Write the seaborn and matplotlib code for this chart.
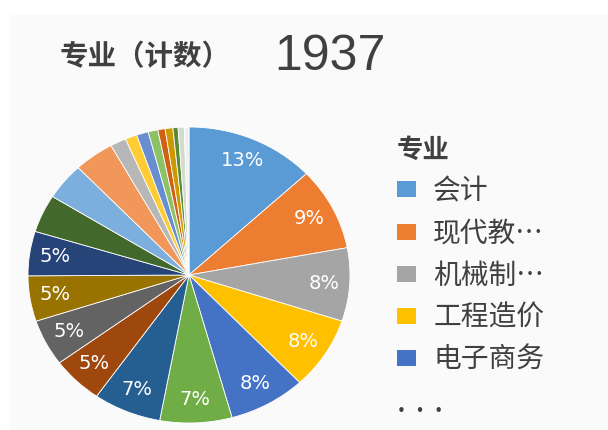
import matplotlib
matplotlib.use("Agg")
import matplotlib.pyplot as plt
from matplotlib.patches import Patch, Rectangle
import seaborn as sns

# data (total 1937)
legend_labels = ["会计", "现代教…", "机械制…", "工程造价", "电子商务"]
counts = [252, 175, 155, 153, 150, 140, 132, 100, 98, 96, 94,
          80, 78, 78, 31, 23, 23, 19, 14, 15, 10, 12, 9]
title_text = "专业（计数）"
legend_title = "专业"

# Excel-like theme colours
palette = sns.color_palette([
    "#5B9BD5", "#ED7D31", "#A5A5A5", "#FFC000", "#4472C4", "#70AD47",
    "#255E91", "#9E480E", "#636363", "#997300", "#264478", "#43682B",
    "#7CAFDD", "#F1975A", "#B7B7B7", "#FFCD33", "#698ED0", "#8CC168",
    "#D26012", "#CC9A00", "#5A8A39", "#D3DBCB", "#EEF1F3",
])

sns.set_theme(style="white")
cjk = ["Noto Sans CJK SC", "DejaVu Sans"]
plt.rcParams["font.family"] = cjk

W, H = 608, 430
fig = plt.figure(figsize=(W / 100, H / 100), dpi=100)
fig.patch.set_facecolor("white")
fig.add_artist(Rectangle((10 / W, 0), 1, 1 - 15 / H, transform=fig.transFigure,
                         facecolor="#FAFAFA", edgecolor="none", zorder=-10))

ax = fig.add_axes([28 / W, 7 / H, 322 / W, 296 / H])
wedges, texts, autotexts = ax.pie(
    counts, colors=palette, startangle=90, counterclock=False,
    autopct=lambda p: f"{p:.0f}%" if p >= 4.5 else "",
    pctdistance=0.84,
    wedgeprops=dict(edgecolor="white", linewidth=0.6),
    textprops=dict(color="white", fontsize=14, family="DejaVu Sans"),
)
ax.set_aspect("auto")
ax.set_xlim(-1, 1)
ax.set_ylim(-1, 1)

fig.text(60 / W, 1 - 57 / H, title_text, fontsize=20.5, fontweight="bold",
         color="#404040", va="center", ha="left", family=cjk)
fig.text(274 / W, 1 - 57 / H, str(sum(counts)), fontsize=36,
         color="#404040", va="center", ha="left", family="Liberation Sans")

handles = [Patch(facecolor=palette[i], edgecolor="none") for i in range(len(legend_labels))]
leg = fig.legend(handles, legend_labels, loc="upper left",
                 bbox_to_anchor=(397 / W, 1 - 137 / H), frameon=False,
                 title=legend_title, alignment="left", borderpad=0,
                 borderaxespad=0,
                 handlelength=0.7, handleheight=0.5, handletextpad=0.6,
                 labelspacing=0.44,
                 prop=dict(family=cjk, size=20),
                 title_fontproperties=dict(family=cjk, size=19, weight="bold"))
for t in leg.get_texts():
    t.set_color("#404040")
leg.get_title().set_color("#404040")

fig.text(397 / W, 1 - 411 / H, "•  •  •", fontsize=11, color="#404040",
         va="center", ha="left", family="DejaVu Sans")

fig.savefig("out.png", dpi=100)
